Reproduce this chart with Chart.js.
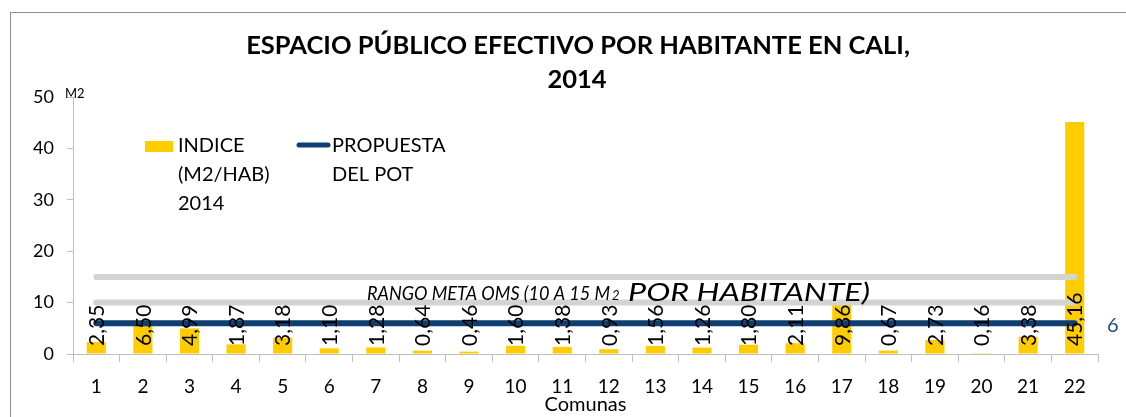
<!DOCTYPE html>
<html>
<head>
<meta charset="utf-8">
<script src="https://cdn.jsdelivr.net/npm/chart.js@4.4.1/dist/chart.umd.min.js"></script>
<style>
  html, body { margin: 0; padding: 0; background: #fff; }
  #wrap { width: 1126px; height: 417px; position: relative; }
</style>
</head>
<body>
<div id="wrap"><canvas id="c" width="1126" height="417"></canvas></div>
<script>
const categories = ['1','2','3','4','5','6','7','8','9','10','11','12','13','14','15','16','17','18','19','20','21','22'];
const indice = [2.35, 6.50, 4.99, 1.87, 3.18, 1.10, 1.28, 0.64, 0.46, 1.60, 1.38, 0.93, 1.56, 1.26, 1.80, 2.11, 9.86, 0.67, 2.73, 0.16, 3.38, 45.16];
const propuesta = [6,6,6,6,6,6,6,6,6,6,6,6,6,6,6,6,6,6,6,6,6,6];
const rangoMin = [10,10,10,10,10,10,10,10,10,10,10,10,10,10,10,10,10,10,10,10,10,10];
const rangoMax = [15,15,15,15,15,15,15,15,15,15,15,15,15,15,15,15,15,15,15,15,15,15];
const yTicks = [0, 10, 20, 30, 40, 50];

const FONT = 'Lato, "Open Sans", sans-serif';
const YELLOW = '#FFCC00';
const BLUE = '#0E3F70';
const GRAY = '#D3D3CF';

function fitText(ctx, text, x, y, width) {
  const w = ctx.measureText(text).width;
  ctx.save();
  ctx.translate(x, y);
  ctx.scale(width / w, 1);
  ctx.fillText(text, 0, 0);
  ctx.restore();
}

const decorPlugin = {
  id: 'decor',
  beforeDraw(chart) {
    const ctx = chart.ctx;
    ctx.save();
    ctx.fillStyle = '#fff';
    ctx.fillRect(0, 0, chart.width, chart.height);
    ctx.strokeStyle = '#8C8C8C';
    ctx.lineWidth = 1;
    ctx.strokeRect(10.5, 12.5, 1200, 500);
    ctx.restore();
  },
  afterDatasetsDraw(chart) {
    const ctx = chart.ctx;
    const y = chart.scales.y;
    ctx.save();
    // Title
    ctx.fillStyle = '#000';
    ctx.textAlign = 'center';
    ctx.textBaseline = 'middle';
    ctx.font = 'bold 25.5px ' + FONT;
    ctx.fillText('ESPACIO PÚBLICO EFECTIVO POR HABITANTE EN CALI,', 578, 46);
    ctx.fillText('2014', 577, 80);

    // Unit label
    ctx.font = '13px ' + FONT;
    ctx.textAlign = 'left';
    ctx.fillText('M2', 65, 94);

    // Data labels (rotated, inside base)
    const meta = chart.getDatasetMeta(0);
    ctx.font = '21px ' + FONT;
    meta.data.forEach((bar, i) => {
      const label = indice[i].toFixed(2).replace('.', ',');
      ctx.save();
      ctx.translate(bar.x, y.getPixelForValue(0) - 8);
      ctx.rotate(-Math.PI / 2);
      ctx.textAlign = 'left';
      ctx.textBaseline = 'middle';
      ctx.fillStyle = '#000';
      ctx.fillText(label, 0, 1);
      ctx.restore();
    });

    // Value label for the line
    ctx.font = '20px ' + FONT;
    ctx.fillStyle = '#1F4E79';
    ctx.textAlign = 'left';
    ctx.textBaseline = 'middle';
    ctx.fillText('6', 1107, y.getPixelForValue(6) + 2);

    // Range annotation
    ctx.fillStyle = '#000';
    ctx.textBaseline = 'alphabetic';
    const baseY = y.getPixelForValue(10) - 3;
    ctx.font = 'italic 20px ' + FONT;
    fitText(ctx, 'RANGO META OMS (10 A 15 M', 367, baseY, 243);
    ctx.font = 'italic 13px ' + FONT;
    ctx.fillText('2', 612, baseY);
    ctx.font = 'italic 26px ' + FONT;
    fitText(ctx, 'POR HABITANTE)', 628, baseY + 1, 242);

    // Legend
    ctx.fillStyle = YELLOW;
    ctx.fillRect(145, 141, 28, 11);
    ctx.strokeStyle = BLUE;
    ctx.lineWidth = 5;
    ctx.lineCap = 'round';
    ctx.beginPath();
    ctx.moveTo(299, 145);
    ctx.lineTo(328, 145);
    ctx.stroke();
    ctx.fillStyle = '#000';
    ctx.font = '20px ' + FONT;
    ctx.textBaseline = 'middle';
    ctx.textAlign = 'left';
    ctx.fillText('INDICE', 178, 146);
    ctx.fillText('(M2/HAB)', 178, 175);
    ctx.fillText('2014', 178, 204);
    ctx.fillText('PROPUESTA', 332, 146);
    ctx.fillText('DEL POT', 332, 175);
    ctx.restore();
  }
};

new Chart(document.getElementById('c'), {
  type: 'bar',
  data: {
    labels: categories,
    datasets: [
      { type: 'bar', label: 'INDICE (M2/HAB) 2014', data: indice, backgroundColor: YELLOW, barPercentage: 0.41, categoryPercentage: 1.0, order: 3 },
      { type: 'line', label: 'RANGO MAX', data: rangoMax, borderColor: GRAY, borderWidth: 6, borderCapStyle: 'round', pointRadius: 0, fill: false, order: 2 },
      { type: 'line', label: 'RANGO MIN', data: rangoMin, borderColor: GRAY, borderWidth: 6, borderCapStyle: 'round', pointRadius: 0, fill: false, order: 2 },
      { type: 'line', label: 'PROPUESTA DEL POT', data: propuesta, borderColor: BLUE, borderWidth: 6, borderCapStyle: 'round', pointRadius: 0, fill: false, order: 1 }
    ]
  },
  options: {
    responsive: false,
    animation: false,
    events: [],
    layout: { padding: { top: 97, right: 28, left: 0, bottom: 0 } },
    plugins: { legend: { display: false }, title: { display: false }, tooltip: { enabled: false } },
    scales: {
      x: {
        offset: true,
        grid: { display: true, drawOnChartArea: false, drawTicks: true, tickLength: 8, color: '#BFBFBF', offset: true },
        border: { color: '#BFBFBF' },
        ticks: { color: '#000', font: { family: FONT, size: 19 }, padding: 13, maxRotation: 0 },
        title: { display: true, text: 'Comunas', color: '#000', font: { family: FONT, size: 20 }, padding: { top: 0, bottom: 0 } },
        afterFit(s) { s.height = 63; }
      },
      y: {
        min: 0, max: 50,
        afterBuildTicks(s) { s.ticks = yTicks.map(v => ({ value: v })); },
        grid: { display: true, drawOnChartArea: false, drawTicks: true, tickLength: 6, color: '#BFBFBF' },
        border: { color: '#BFBFBF' },
        ticks: { color: '#000', font: { family: FONT, size: 18 }, padding: 13 },
        afterFit(s) { s.width = 73; }
      }
    }
  },
  plugins: [decorPlugin]
});
</script>
</body>
</html>
